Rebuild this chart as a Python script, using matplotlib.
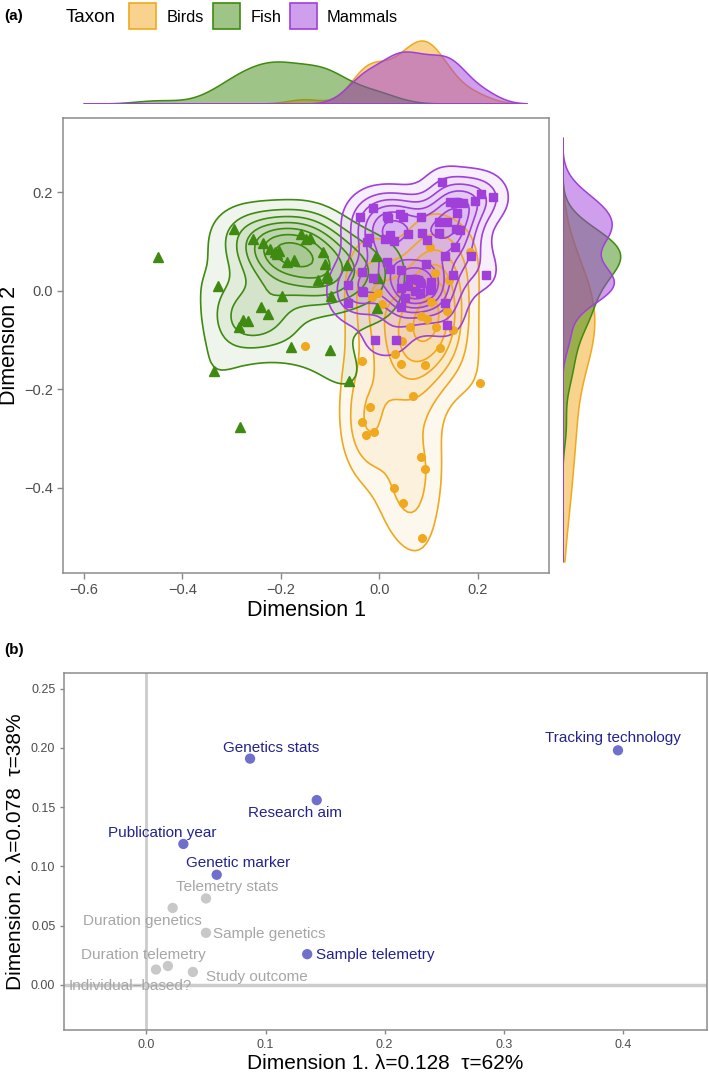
import numpy as np
import matplotlib
matplotlib.use("Agg")
import matplotlib.pyplot as plt
from matplotlib.patches import Rectangle
from matplotlib.colors import to_rgba
from matplotlib.ticker import FuncFormatter

plt.rcParams['font.family'] = ['Liberation Sans', 'DejaVu Sans']

W, H = 709, 1075

BIRD = "#F0A81E"
FISH = "#3F8A10"
MAMM = "#A03FDA"

# ---- panel (a) data : MCA coordinates per taxon ----
birds_x = [-0.002, -0.015, 0.005, 0.106, 0.137, 0.084, 0.098, 0.062, 0.116, 0.150,
           0.047, 0.123, 0.032, 0.045, 0.093, -0.151, -0.036, 0.204, 0.069, -0.019,
           -0.036, -0.027, -0.011, 0.084, 0.093, 0.030, 0.049, 0.087, 0.103, 0.184,
           0.113, 0.142, -0.039, 0.066]
birds_y = [-0.005, -0.013, -0.026, -0.022, -0.041, -0.051, -0.057, -0.074, -0.074, -0.079,
           -0.102, -0.116, -0.128, -0.149, -0.150, -0.111, -0.142, -0.187, -0.213, -0.235,
           -0.267, -0.292, -0.286, -0.338, -0.362, -0.401, -0.430, -0.501, 0.090, 0.080,
           0.036, 0.022, 0.039, 0.005]

fish_x = [-0.449, -0.296, -0.256, -0.237, -0.221, -0.212, -0.203, -0.208, -0.188, -0.173,
          -0.159, -0.149, -0.141, -0.114, -0.110, -0.107, -0.124, -0.106, -0.099, -0.327,
          -0.198, -0.241, -0.227, -0.277, -0.267, -0.284, -0.179, -0.100, -0.066, -0.007,
          -0.002, -0.004, -0.061, -0.336, -0.283]
fish_y = [0.068, 0.126, 0.106, 0.098, 0.085, 0.080, 0.082, 0.075, 0.058, 0.063,
          0.115, 0.106, 0.108, 0.080, 0.055, 0.032, 0.022, 0.026, -0.010, 0.010,
          -0.010, -0.032, -0.046, -0.059, -0.062, -0.074, -0.113, -0.120, 0.052, 0.071,
          0.026, -0.035, -0.183, -0.162, -0.276]

mammals_x = [0.127, 0.206, 0.231, 0.194, 0.144, 0.154, 0.171, -0.013, 0.159, -0.039,
             0.015, 0.018, 0.042, 0.049, 0.085, 0.122, 0.138, 0.157, 0.164, 0.059,
             0.022, 0.012, 0.030, -0.020, -0.024, 0.086, 0.097, 0.122, 0.154, 0.186,
             0.133, 0.216, 0.015, 0.022, -0.036, 0.096, 0.045, 0.150, 0.062, 0.079,
             0.083, 0.106, 0.045, 0.059, 0.106, -0.012, -0.063, -0.036, -0.063, 0.133,
             -0.032, 0.045, 0.137, -0.009, 0.035, 0.104, 0.072, 0.083, 0.052]
mammals_y = [0.221, 0.196, 0.191, 0.183, 0.180, 0.178, 0.178, 0.168, 0.158, 0.150,
             0.152, 0.148, 0.156, 0.150, 0.151, 0.139, 0.139, 0.125, 0.124, 0.116,
             0.114, 0.106, 0.102, 0.107, 0.100, 0.118, 0.104, 0.117, 0.089, 0.070,
             0.070, 0.032, 0.058, 0.045, 0.039, 0.054, 0.043, 0.032, 0.024, 0.022,
             0.016, 0.019, 0.005, 0.010, 0.005, 0.026, 0.012, -0.001, -0.025, -0.025,
             -0.003, -0.032, -0.069, -0.099, -0.099, 0.002, -0.001, -0.005, -0.015]

taxa = ["Birds", "Fish", "Mammals"]

# ---- panel (b) data : variable coordinates ----
var_names = ["Tracking technology", "Genetics stats", "Research aim", "Publication year",
             "Genetic marker", "Telemetry stats", "Duration genetics", "Sample genetics",
             "Sample telemetry", "Duration telemetry", "Individual\u2212based?", "Study outcome"]
dim1 = [0.396, 0.087, 0.143, 0.031, 0.059, 0.050, 0.022, 0.050, 0.135, 0.018, 0.008, 0.039]
dim2 = [0.198, 0.191, 0.156, 0.119, 0.093, 0.073, 0.065, 0.044, 0.026, 0.016, 0.013, 0.011]
contributes = [True, True, True, True, True, False, False, False, True, False, False, False]


def box(l, t, r, b):
    return [l / W, 1 - b / H, (r - l) / W, (b - t) / H]


def spread(v):
    v = np.asarray(v)
    sd = v.std(ddof=1)
    q75, q25 = np.percentile(v, [75, 25])
    return min(sd, (q75 - q25) / 1.34)


def kde1d(v, grid):
    v = np.asarray(v)
    h = 0.9 * spread(v) * len(v) ** -0.2
    z = (grid[:, None] - v[None, :]) / h
    return np.exp(-0.5 * z ** 2).sum(1) / (len(v) * h * np.sqrt(2 * np.pi))


def kde2d(x, y, gx, gy):
    x, y = np.asarray(x), np.asarray(y)
    hx = 1.06 * spread(x) * len(x) ** -0.2
    hy = 1.06 * spread(y) * len(y) ** -0.2
    kx = np.exp(-0.5 * ((gx[:, None] - x[None, :]) / hx) ** 2) / (hx * np.sqrt(2 * np.pi))
    ky = np.exp(-0.5 * ((gy[:, None] - y[None, :]) / hy) ** 2) / (hy * np.sqrt(2 * np.pi))
    return ky @ kx.T / len(x)


def minus_fmt(fmt):
    return FuncFormatter(lambda v, p: (fmt % v).replace("-", "\u2212"))


# colour, marker, marker size, number of contour lines
groups = [
    (birds_x, birds_y, BIRD, "o", 5.5, 6),
    (fish_x, fish_y, FISH, "^", 6.5, 7),
    (mammals_x, mammals_y, MAMM, "s", 5.5, 8),
]

fig = plt.figure(figsize=(W / 100, H / 100), dpi=100)

# ---------------- panel (a) ----------------
ax = fig.add_axes(box(63.3, 118, 549, 572.7))
xlim = (-0.642, 0.345)
ylim = (-0.572, 0.351)
gx = np.linspace(-0.6, 0.3, 120)
gy = np.linspace(-0.55, 0.31, 120)

dens = [kde2d(g[0], g[1], gx, gy) for g in groups]
zmax = max(d.max() for d in dens)
low = zmax / 9.5

for d, (x, y, c, m, ms, nl) in zip(dens, groups):
    levels = np.linspace(low, d.max() * 0.93, nl)
    for lev in levels:
        ax.contourf(gx, gy, d, levels=[lev, d.max() + 1], colors=[c], alpha=0.08)
    ax.contour(gx, gy, d, levels=levels, colors=c, linewidths=1.2)

for x, y, c, m, ms, nl in groups:
    ax.plot(x, y, m, color=c, ms=ms, mec=c, ls="none", zorder=5)

ax.set_xlim(*xlim)
ax.set_ylim(*ylim)
ax.set_xticks([-0.6, -0.4, -0.2, 0.0, 0.2])
ax.set_yticks([-0.4, -0.2, 0.0, 0.2])
ax.xaxis.set_major_formatter(minus_fmt("%.1f"))
ax.yaxis.set_major_formatter(minus_fmt("%.1f"))
ax.tick_params(colors="#888888", labelcolor="#4d4d4d", labelsize=10.5, length=4, width=1)
for s in ax.spines.values():
    s.set_color("#8c8c8c")
    s.set_linewidth(1.1)
ax.set_xlabel("Dimension 1", fontsize=15.5, labelpad=2)
ax.set_ylabel("Dimension 2", fontsize=15.5, labelpad=3)

# marginal densities
top = fig.add_axes(box(63.3, 30, 549, 104))
right = fig.add_axes(box(562.7, 118, 632, 572.7))
mx = np.linspace(-0.6, 0.3, 256)
my = np.linspace(-0.55, 0.31, 256)
tops = [kde1d(g[0], mx) for g in groups]
rights = [kde1d(g[1], my) for g in groups]
tmax = max(t.max() for t in tops)
rmax = max(r.max() for r in rights)
for t, r, g in zip(tops, rights, groups):
    c = g[2]
    top.fill(np.r_[mx, mx[::-1]], np.r_[t, np.zeros_like(t)],
             facecolor=to_rgba(c, 0.5), edgecolor=c, lw=1.1)
    right.fill(np.r_[r, np.zeros_like(r)], np.r_[my, my[::-1]],
               facecolor=to_rgba(c, 0.5), edgecolor=c, lw=1.1)
top.set_xlim(*xlim)
top.set_ylim(0, tmax * 74 / 63)
right.set_ylim(*ylim)
right.set_xlim(0, rmax * 69.3 / 58)
top.axis("off")
right.axis("off")

# legend
fig.text(4 / W, 1 - 16 / H, "(a)", fontsize=11, fontweight="bold", va="center")
fig.text(65.6 / W, 1 - 17 / H, "Taxon", fontsize=13.5, va="center")
key_x = [129, 212.7, 289.6]
for kx, name, g in zip(key_x, taxa, groups):
    c = g[2]
    fig.add_artist(Rectangle((kx / W, 1 - 29.3 / H), 27 / W, 26.6 / H,
                             transform=fig.transFigure, facecolor=to_rgba(c, 0.5),
                             edgecolor=c, lw=1.2))
    fig.text((kx + 37.5) / W, 1 - 17 / H, name, fontsize=11.8, va="center")

# ---------------- panel (b) ----------------
bx = fig.add_axes(box(64.3, 673.3, 706.8, 1030))
bx.axvline(0, color="#cccccc", lw=2, zorder=1)
bx.axhline(0, color="#cccccc", lw=2.5, zorder=1)

# label offsets (pixels, right/up) from each point
offsets = [(-5, 12), (21, 11), (-22, -12.6), (-21, 11), (21, 12), (21, 11),
           (-30, -13), (63, -1), (68, -1), (-25, 10.7), (-26, -16), (63.6, -4.6)]
for xv, yv, name, hl, (dx, dy) in zip(dim1, dim2, var_names, contributes, offsets):
    pc = "#6f6fcc" if hl else "#c8c8c8"
    tc = "#23238f" if hl else "#a6a6a6"
    bx.scatter([xv], [yv], s=55, color=pc, edgecolor="none", zorder=3)
    bx.annotate(name, (xv, yv), xytext=(dx * 0.72, dy * 0.72), textcoords="offset points",
                ha="center", va="center", color=tc, fontsize=11, zorder=4,
                annotation_clip=False)

bx.set_xlim(-0.069, 0.4706)
bx.set_ylim(-0.038, 0.263)
bx.set_xticks([0.0, 0.1, 0.2, 0.3, 0.4])
bx.set_yticks([0.0, 0.05, 0.10, 0.15, 0.20, 0.25])
bx.xaxis.set_major_formatter(minus_fmt("%.1f"))
bx.yaxis.set_major_formatter(minus_fmt("%.2f"))
bx.tick_params(colors="#888888", labelcolor="#4d4d4d", labelsize=9, length=3, width=1)
for s in bx.spines.values():
    s.set_color("#8c8c8c")
    s.set_linewidth(1.1)
bx.set_xlabel("Dimension 1. \u03bb=0.128  \u03c4=62%", fontsize=15, labelpad=2)
bx.set_ylabel("Dimension 2. \u03bb=0.078  \u03c4=38%", fontsize=15, labelpad=4)
fig.text(4 / W, 1 - 650 / H, "(b)", fontsize=11, fontweight="bold", va="center")

fig.savefig("out.png", dpi=100)
